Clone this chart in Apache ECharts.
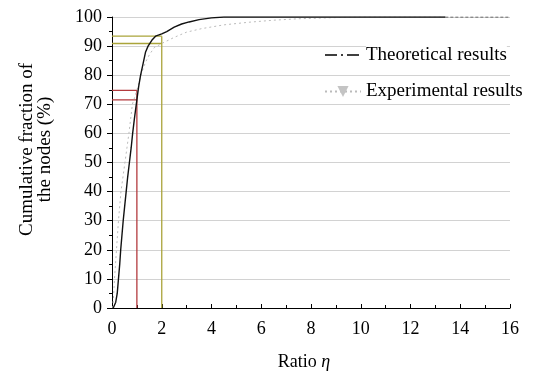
<!DOCTYPE html>
<html>
<head>
<meta charset="utf-8">
<script src="https://cdn.jsdelivr.net/npm/echarts@6/dist/echarts.min.js"></script>
<style>
html,body{margin:0;padding:0;background:#fff;}
#chart{width:537px;height:376px;}
</style>
</head>
<body>
<div id="chart"></div>
<script>
// Theoretical results: [ratio, cumulative %]
var theoX = [0.05,0.15,0.21,0.26,0.31,0.35,0.40,0.45,0.51,0.57,0.63,0.70,0.77,0.83,0.90,1.00,1.07,1.15,1.25,1.35,1.45,1.60,1.75,2.00,2.20,2.50,2.80,3.10,3.50,4.00,4.50,13.4];
var theoY = [0,2,5,10,15,20,25,30,35,40,45,50,55,60,65,71.5,76,80,84,88,90,92,93.4,94.2,95,96.5,97.6,98.3,99.1,99.7,100,100];
// Experimental results
var expX = [0.03,0.07,0.10,0.14,0.18,0.22,0.26,0.31,0.36,0.44,0.52,0.60,0.68,0.75,0.82,1.00,1.10,1.20,1.35,1.50,1.70,1.86,2.00,2.50,3.00,3.60,4.50,5.50,6.50,7.50,9.00,10.0,13.4];
var expY = [0,5,10,15,20,25,30,35,40,45,50,55,60,65,70,74.8,78,81,84.5,87,89.5,90.2,90.9,93,94.8,96,97.3,98.2,98.9,99.4,99.8,100,100];
// Tail segment at top
var tailX = [13.4, 16];
var tailY = [100, 100];
// Reference guides
var redX = 1, redY1 = 74.8, redY2 = 71.5;
var oliveX = 2, oliveY1 = 93.4, oliveY2 = 90.9;
var seriesNames = ['Theoretical results', 'Experimental results'];

function pairs(xs, ys){ return xs.map(function(x,i){ return [x, ys[i]]; }); }

var font = '"Liberation Serif","Times New Roman",serif';
var red = '#b33a3e', olive = '#aaa43a';

function seg(data, color){
  return {type:'line', data:data, symbol:'none', silent:true, z:1,
    lineStyle:{color:color, width:1.3}, legendHoverLink:false};
}

var chart = echarts.init(document.getElementById('chart'));
chart.setOption({
  animation:false,
  backgroundColor:'#fff',
  grid:{left:112, right:27, top:17, bottom:67},
  legend:{
    orient:'vertical', left:324, top:44, padding:0, itemGap:13, itemWidth:36, itemHeight:14,
    textStyle:{fontFamily:font, fontSize:19, color:'#000'},
    data:[
      {name:seriesNames[0], lineStyle:{type:[12,4,2,4], color:'#000', width:1.3},
        itemStyle:{opacity:0, color:'rgba(0,0,0,0)', borderWidth:0},
        textStyle:{backgroundColor:'#fff', padding:[2,0,1,0]}},
      {name:seriesNames[1], textStyle:{backgroundColor:'#fff', padding:[0,0,6,0]}}
    ]
  },
  xAxis:{
    type:'value', min:0, max:16, interval:2,
    name:'{a|Ratio }{b|η}', nameLocation:'middle', nameGap:45,
    nameTextStyle:{padding:[0,14,0,0], rich:{
      a:{fontFamily:font, fontSize:18, color:'#000'},
      b:{fontFamily:font, fontSize:18, fontStyle:'italic', color:'#000'}}},
    axisLine:{lineStyle:{color:'#000', width:1}},
    axisTick:{inside:true, length:4, lineStyle:{color:'#000'}},
    minorTick:{show:true, splitNumber:2, length:3, lineStyle:{color:'#000'}},
    axisLabel:{fontFamily:font, fontSize:18, color:'#000', margin:12},
    splitLine:{show:false}
  },
  yAxis:{
    type:'value', min:0, max:100, interval:10,
    name:'Cumulative fraction of\nthe nodes (%)', nameLocation:'middle', nameGap:58,
    nameTextStyle:{fontFamily:font, fontSize:19, color:'#000', lineHeight:18, padding:[0,0,0,26]},
    axisLine:{show:true, lineStyle:{color:'#000', width:1}},
    axisTick:{show:true, inside:false, length:5, lineStyle:{color:'#000'}},
    minorTick:{show:true, splitNumber:2, length:3, lineStyle:{color:'#000'}},
    axisLabel:{fontFamily:font, fontSize:18, color:'#000', margin:10},
    splitLine:{show:true, lineStyle:{color:'#d2d2d2', width:1}}
  },
  series:[
    {name:seriesNames[1], type:'line', data:pairs(expX, expY), showSymbol:false,
      symbol:'triangle', symbolRotate:180, symbolSize:4, z:2,
      itemStyle:{color:'#c4c4c4'}, lineStyle:{color:'#bbbbbb', width:1, type:[2,3]}},
    {name:seriesNames[0], type:'line', data:pairs(theoX, theoY), showSymbol:false, symbol:'none', z:3,
      itemStyle:{color:'#000'}, lineStyle:{color:'#111', width:1.4}},
    {type:'line', data:pairs(tailX, tailY), symbol:'none', silent:true, z:3,
      lineStyle:{color:'#444', width:1.2, type:[3,2]}},
    seg([[redX,0],[redX,redY1]], red),
    seg([[0,redY1],[redX,redY1]], red),
    seg([[0,redY2],[redX,redY2]], red),
    seg([[oliveX,0],[oliveX,oliveY1]], olive),
    seg([[0,oliveY1],[oliveX,oliveY1]], olive),
    seg([[0,oliveY2],[oliveX,oliveY2]], olive)
  ]
});
</script>
</body>
</html>
